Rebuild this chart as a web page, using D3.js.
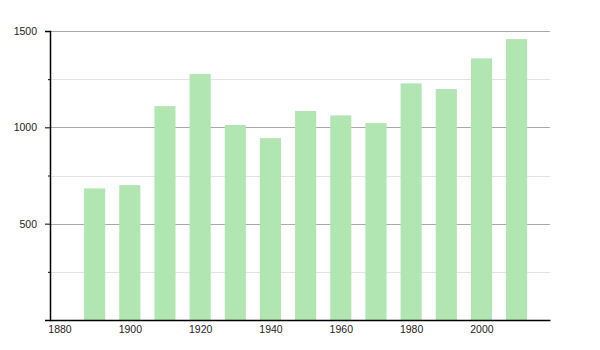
<!DOCTYPE html>
<html>
<head>
<meta charset="utf-8">
<script src="https://cdn.jsdelivr.net/npm/d3@7"></script>
<style>
  body { margin: 0; background: #fff; }
  text { font-family: "Liberation Sans", Arial, sans-serif; font-size: 10px; fill: #222; }
</style>
</head>
<body>
<div id="chart"></div>
<script>
// data
var years = [1890, 1900, 1910, 1920, 1930, 1940, 1950, 1960, 1970, 1980, 1990, 2000, 2010];
var population = [683, 700, 1110, 1277, 1012, 944, 1085, 1062, 1022, 1228, 1199, 1358, 1458];
var xTicks = [1880, 1900, 1920, 1940, 1960, 1980, 2000];
var yMajor = [500, 1000, 1500];
var yMinor = [250, 750, 1250];

var margin = {top: 31, right: 50, bottom: 30, left: 50},
    width = 600 - margin.left - margin.right,
    height = 350 - margin.top - margin.bottom;

var x = d3.scaleLinear().domain([1877.3, 2019.5]).range([0, width]);
var y = d3.scaleLinear().domain([0, 1500]).range([height, 0]);

var svg = d3.select("#chart").append("svg")
    .attr("width", 600)
    .attr("height", 350)
  .append("g")
    .attr("transform", "translate(" + margin.left + "," + margin.top + ")");

// minor grid lines
svg.selectAll(".minor")
    .data(yMinor)
  .enter().append("line")
    .attr("x1", 0).attr("x2", width)
    .attr("y1", function(d) { return Math.round(y(d)) + 0.5; })
    .attr("y2", function(d) { return Math.round(y(d)) + 0.5; })
    .attr("stroke", "#e3e3e3");

// major grid lines
svg.selectAll(".major")
    .data(yMajor)
  .enter().append("line")
    .attr("x1", 0).attr("x2", width)
    .attr("y1", function(d) { return Math.round(y(d)) + 0.5; })
    .attr("y2", function(d) { return Math.round(y(d)) + 0.5; })
    .attr("stroke", "#aaaaaa");

// bars
var barW = x(1896) - x(1890);
svg.selectAll(".bar")
    .data(years)
  .enter().append("rect")
    .attr("x", function(d) { return x(d) - barW / 2; })
    .attr("width", barW)
    .attr("y", function(d, i) { return y(population[i]); })
    .attr("height", function(d, i) { return height - y(population[i]); })
    .attr("fill", "#b1e5b1");

// y axis
svg.append("g")
    .call(d3.axisLeft(y).tickValues(yMajor).tickFormat(d3.format("d")).tickSize(5).tickPadding(8))
    .call(function(g) { g.select(".domain").attr("stroke", "#000").attr("stroke-width", 1.5); })
    .call(function(g) { g.selectAll("text").style("font-size", "10.5px"); });

svg.append("g")
    .call(d3.axisLeft(y).tickValues(yMinor).tickSize(2).tickFormat(""))
    .call(function(g) { g.select(".domain").remove(); });

// x axis
svg.append("g")
    .attr("transform", "translate(0," + height + ")")
    .call(d3.axisBottom(x).tickValues(xTicks).tickFormat(d3.format("d")).tickSize(0).tickPadding(6))
    .call(function(g) { g.select(".domain").attr("stroke", "#000").attr("stroke-width", 1.5); })
    .call(function(g) { g.selectAll("text").style("font-size", "10.5px"); });
</script>
</body>
</html>
